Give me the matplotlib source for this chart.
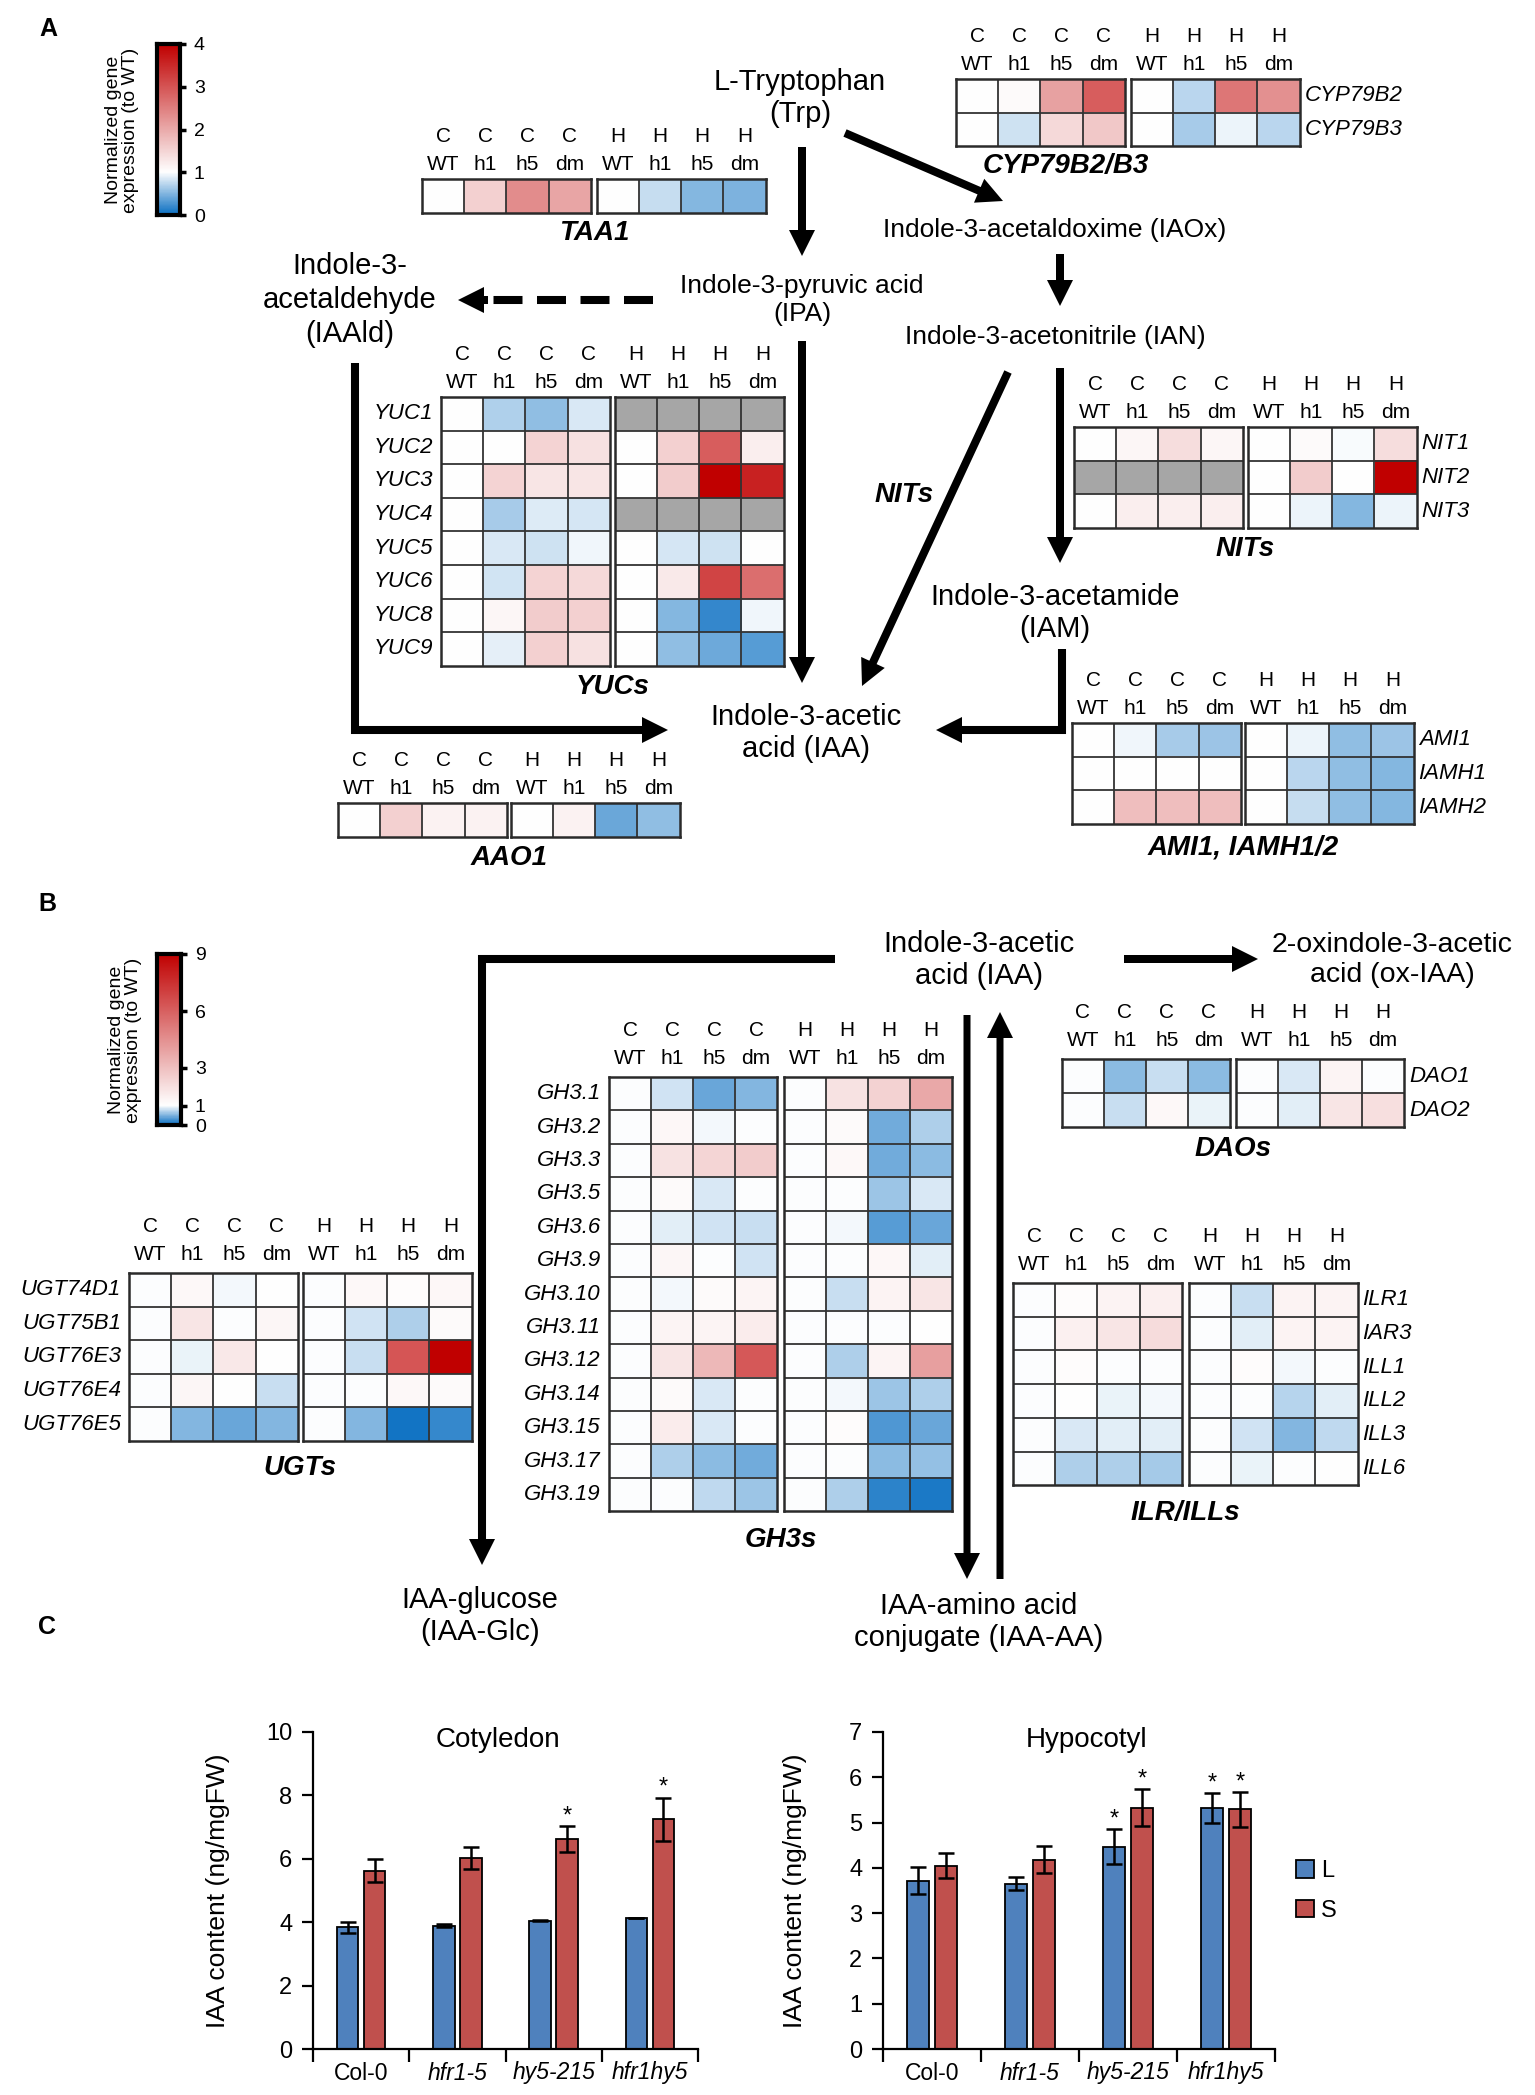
import numpy as np
import matplotlib
matplotlib.use('Agg')
import matplotlib.pyplot as plt
from matplotlib.colors import LinearSegmentedColormap
from matplotlib.patches import FancyArrow

plt.rcParams['font.family'] = ['Liberation Sans', 'DejaVu Sans']

nan = np.nan
W, H = 1535, 2095

# column headers shared by every heatmap
cols_top = ['C', 'C', 'C', 'C', 'H', 'H', 'H', 'H']
cols_bot = ['WT', 'h1', 'h5', 'dm', 'WT', 'h1', 'h5', 'dm']

# panel A values (normalized to WT)
taa1_vals = [[1, 1.55, 2.35, 2.05, 1, 0.78, 0.5, 0.48]]

cyp_genes = ['CYP79B2', 'CYP79B3']
cyp_vals = [[1, 1.05, 2.1, 2.9, 1, 0.72, 2.6, 2.3],
            [1, 0.8, 1.45, 1.65, 1, 0.65, 0.93, 0.72]]

yuc_genes = ['YUC1', 'YUC2', 'YUC3', 'YUC4', 'YUC5', 'YUC6', 'YUC8', 'YUC9']
yuc_vals = [[1, 0.68, 0.55, 0.85, nan, nan, nan, nan],
            [1, 1.0, 1.5, 1.35, 1, 1.55, 2.9, 1.2],
            [1, 1.5, 1.3, 1.3, 1, 1.6, 4.0, 3.6],
            [1, 0.65, 0.86, 0.83, nan, nan, nan, nan],
            [1, 0.85, 0.8, 0.95, 1, 0.83, 0.8, 1.0],
            [1, 0.82, 1.5, 1.45, 1, 1.25, 3.2, 2.7],
            [1, 1.1, 1.6, 1.55, 1, 0.5, 0.18, 0.95],
            [1, 0.9, 1.55, 1.35, 1, 0.55, 0.42, 0.32]]

nit_genes = ['NIT1', 'NIT2', 'NIT3']
nit_vals = [[1, 1.1, 1.4, 1.1, 1, 1.05, 0.98, 1.4],
            [nan, nan, nan, nan, 1, 1.6, 1.0, 4.0],
            [1, 1.2, 1.2, 1.2, 1, 0.93, 0.5, 0.93]]

ami_genes = ['AMI1', 'IAMH1', 'IAMH2']
ami_vals = [[1, 0.95, 0.65, 0.6, 1, 0.93, 0.55, 0.6],
            [1, 1, 1, 1, 1, 0.72, 0.55, 0.5],
            [1, 1.75, 1.75, 1.75, 1, 0.78, 0.55, 0.5]]

aao1_vals = [[1, 1.55, 1.15, 1.15, 1, 1.15, 0.4, 0.55]]

# panel B values
dao_genes = ['DAO1', 'DAO2']
dao_vals = [[1, 0.55, 0.78, 0.55, 1, 0.85, 1.35, 1.0],
            [1, 0.78, 1.2, 0.92, 1, 0.88, 1.8, 2.0]]

gh3_genes = ['GH3.1', 'GH3.2', 'GH3.3', 'GH3.5', 'GH3.6', 'GH3.9', 'GH3.10',
             'GH3.11', 'GH3.12', 'GH3.14', 'GH3.15', 'GH3.17', 'GH3.19']
gh3_vals = [[1, 0.82, 0.4, 0.5, 1, 1.9, 2.4, 3.7],
            [1, 1.25, 0.95, 1.0, 1, 1.15, 0.45, 0.7],
            [1, 1.9, 2.3, 2.6, 1, 1.2, 0.45, 0.55],
            [1, 1.15, 0.85, 1.0, 1, 1.0, 0.6, 0.85],
            [1, 0.88, 0.82, 0.78, 1, 0.97, 0.35, 0.42],
            [1, 1.3, 1.0, 0.83, 1, 1.0, 1.25, 0.88],
            [1, 0.97, 1.15, 1.35, 1, 0.8, 1.4, 1.8],
            [1, 1.35, 1.35, 1.6, 1, 1.0, 1.0, 1.05],
            [1, 1.8, 3.2, 6.2, 1, 0.7, 1.35, 4.0],
            [1, 1.15, 0.85, 1.0, 1, 0.96, 0.62, 0.7],
            [1, 1.6, 0.85, 1.0, 1, 1.1, 0.3, 0.4],
            [1, 0.68, 0.55, 0.45, 1, 1.0, 0.55, 0.58],
            [1, 1.0, 0.75, 0.62, 1, 0.7, 0.15, 0.1]]

ugt_genes = ['UGT74D1', 'UGT75B1', 'UGT76E3', 'UGT76E4', 'UGT76E5']
ugt_vals = [[1, 1.2, 0.96, 1.05, 1, 1.2, 1.1, 1.25],
            [1, 1.8, 1.0, 1.3, 1, 0.82, 0.68, 1.15],
            [1, 0.92, 1.7, 1.05, 1, 0.8, 6.3, 9.0],
            [1, 1.3, 1.05, 0.8, 1, 1.0, 1.2, 1.15],
            [1, 0.52, 0.42, 0.5, 1, 0.52, 0.05, 0.2]]

ilr_genes = ['ILR1', 'IAR3', 'ILL1', 'ILL2', 'ILL3', 'ILL6']
ilr_vals = [[1, 1.1, 1.4, 1.5, 1, 0.8, 1.4, 1.4],
            [1, 1.45, 1.8, 2.1, 1, 0.88, 1.4, 1.4],
            [1, 1.1, 1.0, 1.0, 1, 1.1, 0.97, 1.0],
            [1, 1.02, 0.93, 0.96, 1, 1.0, 0.72, 0.88],
            [1, 0.86, 0.9, 0.9, 1, 0.82, 0.5, 0.75],
            [1, 0.68, 0.68, 0.65, 1, 0.92, 1.0, 1.05]]

# panel C: IAA content
genotypes = ['Col-0', 'hfr1-5', 'hy5-215', 'hfr1hy5']
cot_L = [3.84, 3.89, 4.04, 4.13]
cot_L_err = [0.18, 0.05, 0.015, 0.01]
cot_S = [5.63, 6.02, 6.63, 7.25]
cot_S_err = [0.37, 0.35, 0.41, 0.68]
hyp_L = [3.72, 3.65, 4.47, 5.32]
hyp_L_err = [0.3, 0.14, 0.38, 0.33]
hyp_S = [4.05, 4.18, 5.33, 5.29]
hyp_S_err = [0.28, 0.3, 0.41, 0.38]
cot_star_L = [False, False, False, False]
cot_star_S = [False, False, True, True]
hyp_star_L = [False, False, True, True]
hyp_star_S = [False, False, True, True]


def make_cmap(vmax):
    cm = LinearSegmentedColormap.from_list(
        'bwr_wt', [(0, '#0A6FC2'), (1.0 / vmax, '#FFFFFF'), (1, '#C00000')])
    cm.set_bad('#A6A6A6')
    return cm


cmapA = make_cmap(4)
cmapB = make_cmap(9)

fig = plt.figure(figsize=(W / 100, H / 100), dpi=100)
bg = fig.add_axes([0, 0, 1, 1])
bg.set_xlim(0, W)
bg.set_ylim(H, 0)
bg.axis('off')


def heatmap(vals, genes, x0, top, cmap, vmax, title, cw=42.2, ch=33.6, gap=5,
            side='left', title_x=None, title_y=None, hdr=(43, 14), tdy=21):
    vals = np.array(vals, dtype=float)
    n = vals.shape[0]
    for b in range(2):
        left = x0 + b * (4 * cw + gap)
        ax = fig.add_axes([left / W, 1 - (top + n * ch) / H, 4 * cw / W, n * ch / H])
        block = np.ma.masked_invalid(vals[:, 4 * b:4 * b + 4])
        ax.imshow(block, cmap=cmap, vmin=0, vmax=vmax, aspect='auto',
                  extent=(0, 4, n, 0), interpolation='nearest')
        ax.hlines(np.arange(1, n), 0, 4, color='#333333', lw=1.3)
        ax.vlines(np.arange(1, 4), 0, n, color='#333333', lw=1.3)
        ax.set_xlim(0, 4)
        ax.set_ylim(n, 0)
        ax.set_xticks([])
        ax.set_yticks([])
        for s in ax.spines.values():
            s.set_linewidth(1.8)
            s.set_color('#2a2a2a')
        for j in range(4):
            cx = left + (j + 0.5) * cw
            bg.text(cx, top - hdr[0], cols_top[4 * b + j], ha='center', va='center', fontsize=15)
            bg.text(cx, top - hdr[1], cols_bot[4 * b + j], ha='center', va='center', fontsize=15)
    right = x0 + 8 * cw + gap
    if genes is not None:
        for i, g in enumerate(genes):
            yy = top + (i + 0.5) * ch
            if side == 'left':
                bg.text(x0 - 8, yy, g, ha='right', va='center', fontsize=16, style='italic')
            else:
                bg.text(right + 5, yy, g, ha='left', va='center', fontsize=16, style='italic')
    tx = title_x if title_x is not None else (x0 + right) / 2
    ty = title_y if title_y is not None else top + n * ch + tdy
    bg.text(tx, ty, title, ha='center', va='center', fontsize=20,
            fontweight='bold', style='italic')


def colorbar(x0, x1, y0, y1, vmax, ticks, cmap, lx, ly):
    cax = fig.add_axes([x0 / W, 1 - y1 / H, (x1 - x0) / W, (y1 - y0) / H])
    cax.imshow(np.linspace(0, vmax, 300)[:, None], cmap=cmap, vmin=0, vmax=vmax,
               aspect='auto', origin='lower', extent=(0, 1, 0, vmax))
    cax.set_xticks([])
    cax.set_yticks(ticks)
    cax.yaxis.tick_right()
    cax.tick_params(axis='y', direction='out', length=4, width=2.5, pad=6, labelsize=14)
    for s in cax.spines.values():
        s.set_linewidth(3)
    bg.text(lx, ly, 'Normalized gene\nexpression (to WT)', rotation=90,
            ha='center', va='center', fontsize=14, linespacing=1.05)


def arrow(x0, y0, x1, y1, w=8, hw=26, hl=26):
    bg.add_patch(FancyArrow(x0, y0, x1 - x0, y1 - y0, width=w, head_width=hw,
                            head_length=hl, length_includes_head=True,
                            color='black', lw=0))


def path(xs, ys, lw=5.8):
    bg.plot(xs, ys, color='black', lw=lw, solid_joinstyle='miter', solid_capstyle='butt')


# ---------------- panel A ----------------
bg.text(48, 29, 'A', fontsize=18, fontweight='bold', ha='center', va='center')
colorbar(157, 180, 44, 215, 4, [0, 1, 2, 3, 4], cmapA, 122, 130)

big = dict(ha='center', va='center', fontsize=21, linespacing=1.2)
mid = dict(ha='center', va='center', fontsize=19, linespacing=1.25)
bg.text(800, 98, 'L-Tryptophan\n(Trp)', **big)
bg.text(1055, 230, 'Indole-3-acetaldoxime (IAOx)', **mid)
bg.text(802, 300, 'Indole-3-pyruvic acid\n(IPA)', **mid)
bg.text(350, 300, 'Indole-3-\nacetaldehyde\n(IAAld)', ha='center', va='center',
        fontsize=21, linespacing=1.25)
bg.text(1055, 337, 'Indole-3-acetonitrile (IAN)', **mid)
bg.text(904, 495, 'NITs', ha='center', va='center', fontsize=20,
        fontweight='bold', style='italic')
bg.text(1055, 613, 'Indole-3-acetamide\n(IAM)', **big)
bg.text(806, 733, 'Indole-3-acetic\nacid (IAA)', **big)

arrow(802, 147, 802, 256)
arrow(845, 133, 1003, 201)
bg.plot([653, 484], [300, 300], color='black', lw=5.8, dashes=(3.6, 1.8),
        solid_capstyle='butt', dash_capstyle='butt')
arrow(488, 300, 458, 300)
arrow(1060, 254, 1060, 306)
arrow(1060, 368, 1060, 563)
arrow(1008, 372, 862, 686)
arrow(802, 341, 802, 683)
path([355, 355, 650], [363, 730, 730])
arrow(640, 730, 668, 730)
path([1062, 1062, 960], [649, 730, 730])
arrow(970, 730, 936, 730)

heatmap(taa1_vals, None, 422, 179, cmapA, 4, 'TAA1', ch=34, gap=6, tdy=20)
heatmap(cyp_vals, cyp_genes, 956, 79, cmapA, 4, 'CYP79B2/B3', ch=33.5, gap=6,
        side='right', title_x=1066, title_y=166)
heatmap(yuc_vals, yuc_genes, 441, 397, cmapA, 4, 'YUCs', ch=33.6, gap=5)
heatmap(nit_vals, nit_genes, 1074, 427, cmapA, 4, 'NITs', ch=33.7, gap=5, side='right')
heatmap(ami_vals, ami_genes, 1072, 723, cmapA, 4, 'AMI1, IAMH1/2', ch=33.7, gap=4,
        side='right', tdy=23)
heatmap(aao1_vals, None, 338, 803, cmapA, 4, 'AAO1', ch=34, gap=4)

# ---------------- panel B ----------------
bg.text(47, 904, 'B', fontsize=18, fontweight='bold', ha='center', va='center')
colorbar(157, 181, 954, 1125, 9, [0, 1, 3, 6, 9], cmapB, 125, 1040)

bg.text(979, 960, 'Indole-3-acetic\nacid (IAA)', **big)
bg.text(1392, 960, '2-oxindole-3-acetic\nacid (ox-IAA)', ha='center', va='center',
        fontsize=20.5, linespacing=1.2)
bg.text(480, 1616, 'IAA-glucose\n(IAA-Glc)', **big)
bg.text(979, 1622, 'IAA-amino acid\nconjugate (IAA-AA)', **big)

arrow(1124, 959, 1258, 959)
path([835, 482, 482], [959, 959, 1545])
arrow(482, 1535, 482, 1565)
arrow(967, 1015, 967, 1579, w=7)
arrow(1000, 1579, 1000, 1012, w=7)

hB = (46, 18)
heatmap(dao_vals, dao_genes, 1062, 1059, cmapB, 9, 'DAOs', cw=42, ch=34, gap=6,
        side='right', hdr=hB, tdy=22)
heatmap(gh3_vals, gh3_genes, 609, 1077, cmapB, 9, 'GH3s', cw=42, ch=33.4, gap=7,
        hdr=hB, tdy=29)
heatmap(ugt_vals, ugt_genes, 129, 1273, cmapB, 9, 'UGTs', ch=33.6, gap=5,
        hdr=hB, tdy=27)
heatmap(ilr_vals, ilr_genes, 1013, 1283, cmapB, 9, 'ILR/ILLs', ch=33.7, gap=7,
        side='right', hdr=hB, tdy=28)

# ---------------- panel C ----------------
bg.text(47, 1627, 'C', fontsize=18, fontweight='bold', ha='center', va='center')

blue, red = '#4F81BD', '#C0504D'


def barplot(left, right, vL, eL, vS, eS, sL, sS, ymax, step, title, tx, lblx):
    top, bottom = 1732, 2049
    ax = fig.add_axes([left / W, 1 - bottom / H, (right - left) / W, (bottom - top) / H])
    x = np.arange(len(genotypes))
    ek = dict(ecolor='black', elinewidth=1.8, capsize=6, capthick=1.8)
    bL = ax.bar(x + 0.36, vL, 0.225, yerr=eL, color=blue, edgecolor='black', lw=1.3,
                error_kw=ek, label='L')
    bS = ax.bar(x + 0.64, vS, 0.225, yerr=eS, color=red, edgecolor='black', lw=1.3,
                error_kw=ek, label='S')
    for xs, vals, errs, stars in [(x + 0.36, vL, eL, sL), (x + 0.64, vS, eS, sS)]:
        for xi, v, e, s in zip(xs, vals, errs, stars):
            if s:
                ax.annotate('*', (xi, v + e), xytext=(0, -1), textcoords='offset points',
                            ha='center', va='bottom', fontsize=17)
    ax.set_xlim(0, 4)
    ax.set_ylim(0, ymax)
    ax.set_yticks(np.arange(0, ymax + 0.01, step))
    ax.set_xticks(np.arange(0, 5))
    ax.set_xticklabels([])
    ax.set_xticks(x + 0.5, minor=True)
    ax.set_xticklabels(genotypes, minor=True)
    for i, t in enumerate(ax.get_xticklabels(minor=True)):
        if i > 0:
            t.set_style('italic')
    ax.tick_params(axis='x', which='minor', length=0, pad=9, labelsize=16.5)
    ax.tick_params(axis='x', which='major', direction='out', length=9, width=1.6)
    ax.tick_params(axis='y', direction='out', length=8, width=1.6, pad=7, labelsize=17)
    for s in ['top', 'right']:
        ax.spines[s].set_visible(False)
    for s in ['left', 'bottom']:
        ax.spines[s].set_linewidth(1.6)
    ax.set_ylabel('IAA content (ng/mgFW)', fontsize=19)
    ax.yaxis.set_label_coords(lblx, 0.5)
    ax.text(tx, 0.975, title, transform=ax.transAxes, ha='center', va='center', fontsize=20)
    return ax, bL, bS


cot = barplot(313, 698, cot_L, cot_L_err, cot_S, cot_S_err, cot_star_L, cot_star_S,
              10, 2, 'Cotyledon', 0.48, -0.215)
hyp = barplot(883, 1275, hyp_L, hyp_L_err, hyp_S, hyp_S_err, hyp_star_L, hyp_star_S,
              7, 1, 'Hypocotyl', 0.52, -0.194)
hyp[0].legend(handles=[hyp[1], hyp[2]], labels=['L', 'S'], frameon=False, fontsize=17,
              loc='center left', bbox_to_anchor=(1296 / W, 1 - 1891 / H),
              bbox_transform=fig.transFigure, handlelength=0.75, handleheight=0.75,
              handletextpad=0.3, labelspacing=0.75, borderpad=0, borderaxespad=0)

fig.savefig('out.png', dpi=100)
